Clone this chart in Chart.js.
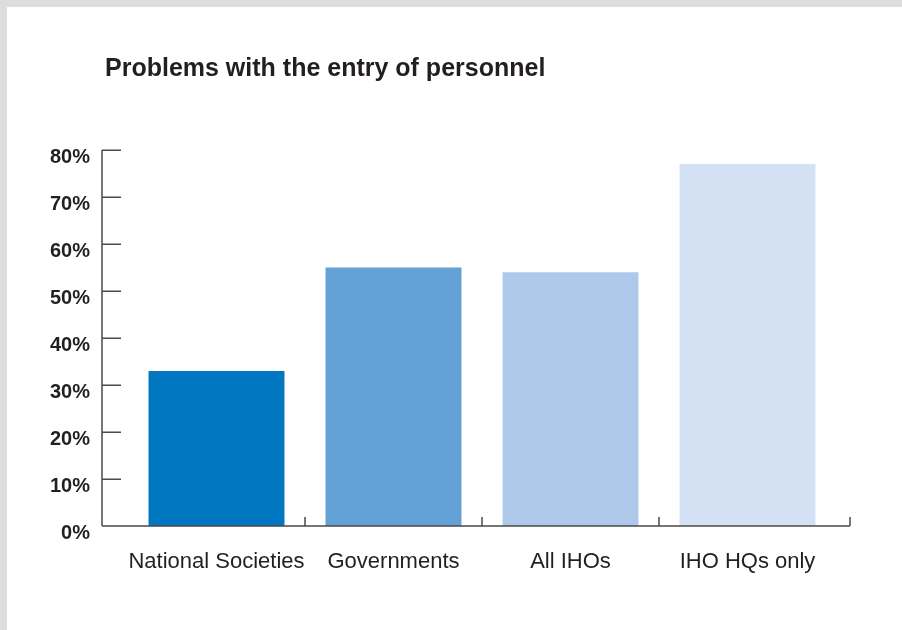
<!DOCTYPE html>
<html>
<head>
<meta charset="utf-8">
<script src="https://cdn.jsdelivr.net/npm/chart.js@4"></script>
<style>
  html, body { margin: 0; padding: 0; background: #dcdddf; width: 902px; height: 630px; overflow: hidden; }
  #wrap { position: absolute; left: 7px; top: 7px; width: 895px; height: 623px; background: #ffffff; }
</style>
</head>
<body>
<div id="wrap"><canvas id="c"></canvas></div>
<script>
const titleText = 'Problems with the entry of personnel';
const categories = ['National Societies', 'Governments', 'All IHOs', 'IHO HQs only'];
const values = [33, 55, 54, 77];
const barColors = ['#0077c0', '#64a1d6', '#aec9ea', '#d4e1f4'];
const yTickValues = [0, 10, 20, 30, 40, 50, 60, 70, 80];

const TEXT = '#231f20';
const AXIS = '#4a4a4a';

const axesPlugin = {
  id: 'customAxes',
  afterLayout(chart) {
    // indent the title to line up with the axis area
    if (chart.titleBlock) chart.titleBlock.left = 98;
  },
  afterDatasetsDraw(chart) {
    const {ctx, chartArea, scales} = chart;
    const y = scales.y, x = scales.x;
    const axisX = chartArea.left - 26;
    const endX = chartArea.right + 14;
    const baseY = y.getPixelForValue(0);
    ctx.save();
    ctx.strokeStyle = AXIS;
    ctx.lineWidth = 1.5;
    ctx.beginPath();
    ctx.moveTo(axisX, y.getPixelForValue(80));
    ctx.lineTo(axisX, baseY);
    ctx.moveTo(axisX, baseY);
    ctx.lineTo(endX, baseY);
    yTickValues.forEach(v => {
      if (v === 0) return;
      const py = Math.round(y.getPixelForValue(v)) + 0.25;
      ctx.moveTo(axisX, py);
      ctx.lineTo(axisX + 19, py);
    });
    for (let i = 0; i < categories.length - 1; i++) {
      const px = Math.round((x.getPixelForValue(i) + x.getPixelForValue(i + 1)) / 2);
      ctx.moveTo(px, baseY);
      ctx.lineTo(px, baseY - 9);
    }
    ctx.moveTo(endX, baseY);
    ctx.lineTo(endX, baseY - 9);
    ctx.stroke();
    ctx.restore();
  }
};

new Chart(document.getElementById('c'), {
  type: 'bar',
  data: {
    labels: categories,
    datasets: [{
      data: values,
      backgroundColor: barColors,
      borderWidth: 0,
      barPercentage: 0.768,
      categoryPercentage: 1.0
    }]
  },
  options: {
    responsive: true,
    maintainAspectRatio: false,
    devicePixelRatio: 1,
    animation: false,
    layout: { padding: { left: 30, right: 66, top: 0, bottom: 0 } },
    plugins: {
      legend: { display: false },
      tooltip: { enabled: false },
      title: {
        display: true,
        text: titleText,
        align: 'start',
        color: TEXT,
        font: { family: 'Liberation Sans', size: 25, weight: 'bold' },
        padding: { top: 47, bottom: 66 }
      }
    },
    scales: {
      x: {
        type: 'category',
        offset: true,
        grid: { display: false, drawTicks: false },
        border: { display: false },
        ticks: {
          color: TEXT,
          padding: 23,
          maxRotation: 0,
          autoSkip: false,
          font: { family: 'Liberation Sans', size: 22 }
        },
        afterFit(scale) { scale.height = 104; }
      },
      y: {
        min: 0,
        max: 80,
        grid: { display: false, drawTicks: false },
        border: { display: false },
        afterBuildTicks(scale) { scale.ticks = yTickValues.map(v => ({ value: v })); },
        ticks: {
          color: TEXT,
          padding: 38,
          labelOffset: 7,
          font: { family: 'Liberation Sans', size: 20, weight: 'bold' },
          callback: v => v + '%'
        },
        afterFit(scale) { scale.width = 91; }
      }
    }
  },
  plugins: [axesPlugin]
});
</script>
</body>
</html>
